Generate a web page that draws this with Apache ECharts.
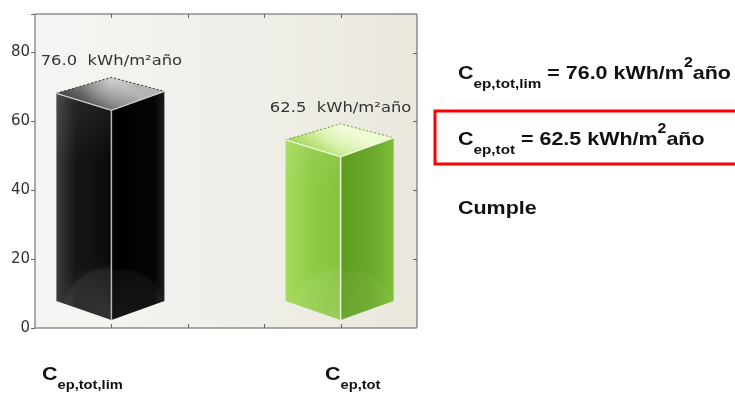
<!DOCTYPE html>
<html><head><meta charset="utf-8">
<script src="https://cdn.jsdelivr.net/npm/echarts@6/dist/echarts.min.js"></script>
<style>html,body{margin:0;padding:0;background:#fff}#c{width:735px;height:394px}</style>
</head><body><div id="c"></div>
<script>
// ---- data ----
const catMain = ['C', 'C'];
const catSub = ['ep,tot,lim', 'ep,tot'];
const values = [76.0, 62.5];
const unitMain = 'kWh/m';
const unitSup = '2';
const unitTail = 'año';
const yTicks = [0, 20, 40, 60, 80];
const xTicks = [1, 2, 3, 4];
const verdict = 'Cumple';

// ---- styles ----
const palettes = [
  { left: [[0,'#3c3c3c'],[0.35,'#161616'],[1,'#0a0a0a']], right: [[0,'#000'],[0.8,'#050505'],[1,'#1c1c1c']],
    top: [[0,'#b4b4b4'],[0.45,'#8a8a8a'],[1,'#4a4a4a']], edge: '#b8b8b8', topEdge: '#d0d0d0', back: '#333', glow: 0.16 },
  { left: [[0,'#a6da5c'],[0.5,'#8fcb45'],[1,'#84c23a']], right: [[0,'#5e9c20'],[0.6,'#6aa92a'],[1,'#7dbd38']],
    top: [[0,'#eefbd2'],[0.5,'#d2f0a0'],[1,'#a8d862']], edge: '#eaf8d6', topEdge: '#f0fbe0', back: '#6a9a40', glow: 0.14 }
];
const lin = (x, y, x2, y2, stops) => ({ type: 'linear', x, y, x2, y2, colorStops: stops.map(([o, c]) => ({ offset: o, color: c })) });
const rad = (x, y, r, stops) => ({ type: 'radial', x, y, r, colorStops: stops.map(([o, c]) => ({ offset: o, color: c })) });
const Y_MAX = 91.2, X_MAX = 5;

function renderBox(params, api) {
  const i = params.dataIndex;
  const xv = api.value(0), v = api.value(1);
  const p = api.coord([xv, v]);
  const p0 = api.coord([xv, 0]);
  const cx = p[0], yv = p[1], y0 = p0[1];
  const yb = yv + 11;
  const TB = [cx, yb], TL = [cx - 55, yb + 16], TF = [cx, yb + 33], TR = [cx + 53, yb + 14];
  const BL = [cx - 55, y0 - 27], BF = [cx, y0 - 8], BR = [cx + 53, y0 - 27];
  const pal = palettes[i];
  const g = pal.glow;
  return {
    type: 'group',
    children: [
      { type: 'polygon', shape: { points: [TL, TF, BF, BL] }, style: { fill: lin(0, 0, 1, 0, pal.left) } },
      { type: 'polygon', shape: { points: [TL, TF, BF, BL] }, style: { fill: rad(0.95, 0.97, 1.0, [[0, 'rgba(255,255,255,' + g + ')'], [0.78, 'rgba(255,255,255,' + (g * 0.6) + ')'], [0.86, 'rgba(255,255,255,0.02)'], [1, 'rgba(255,255,255,0)']]) } },
      { type: 'polygon', shape: { points: [TL, TF, BF, BL] }, style: { fill: lin(0, 0, 0, 1, [[0, 'rgba(255,255,255,0.08)'], [0.3, 'rgba(255,255,255,0)'], [1, 'rgba(255,255,255,0)']]) } },
      { type: 'polygon', shape: { points: [TF, TR, BR, BF] }, style: { fill: lin(0, 0, 1, 0, pal.right) } },
      { type: 'polygon', shape: { points: [TF, TR, BR, BF] }, style: { fill: rad(0.2, 0.97, 1.0, [[0, 'rgba(255,255,255,' + (g * 0.5) + ')'], [0.78, 'rgba(255,255,255,' + (g * 0.3) + ')'], [0.86, 'rgba(255,255,255,0)'], [1, 'rgba(255,255,255,0)']]) } },
      { type: 'polygon', shape: { points: [TB, TR, TF, TL] }, style: { fill: lin(0.5, 0, 0.3, 1, pal.top) } },
      { type: 'polygon', shape: { points: [TB, TR, TF, TL] }, style: { fill: rad(0.5, 0.1, 0.9, [[0, 'rgba(255,255,255,0.35)'], [0.6, 'rgba(255,255,255,0.12)'], [1, 'rgba(255,255,255,0)']]) } },
      { type: 'polyline', shape: { points: [TL, TB, TR] }, style: { stroke: pal.back, lineWidth: 1, lineDash: [2, 2], fill: null } },
      { type: 'polyline', shape: { points: [TL, TF, TR] }, style: { stroke: pal.topEdge, lineWidth: 1.2, fill: null } },
      { type: 'line', shape: { x1: TF[0], y1: TF[1], x2: BF[0], y2: BF[1] }, style: { stroke: pal.edge, lineWidth: 1.5 } },
      { type: 'text', x: cx, y: yv - 5, scaleX: 1.13,
        style: { text: v.toFixed(1) + '  ' + unitMain + '²' + unitTail, fill: '#333', font: '14.5px "DejaVu Sans"',
                 align: 'center', verticalAlign: 'middle', textAlign: 'center', textVerticalAlign: 'middle' } }
    ]
  };
}

// inward ticks on bottom, top and right frame edges, placed by the axis scales
function renderTicks(params, api) {
  const kids = [];
  const st = { stroke: '#666', lineWidth: 1 };
  xTicks.forEach(x => {
    const b = api.coord([x, 0]), t = api.coord([x, Y_MAX]);
    const bx = Math.round(b[0]) + 0.5;
    kids.push({ type: 'line', shape: { x1: bx, y1: b[1], x2: bx, y2: b[1] - 4 }, style: st });
    kids.push({ type: 'line', shape: { x1: bx, y1: t[1], x2: bx, y2: t[1] + 4 }, style: st });
  });
  yTicks.filter(y => y > 0).forEach(y => {
    const r = api.coord([X_MAX, y]);
    const ry = Math.round(r[1]) + 0.5;
    kids.push({ type: 'line', shape: { x1: r[0], y1: ry, x2: r[0] - 4, y2: ry }, style: st });
  });
  return { type: 'group', children: kids };
}

// ---- text helpers ----
const mctx = document.createElement('canvas').getContext('2d');
const FAM = '"Liberation Sans", Arial, sans-serif';
function tw(t, font) { mctx.font = font; return mctx.measureText(t).width; }
function formula(x, base, parts, sx) {
  const kids = []; let cur = 0;
  parts.forEach(pt => {
    const font = 'bold ' + pt.size + 'px ' + FAM;
    kids.push({ type: 'text', x: cur, y: base + pt.dy - 0.35 * pt.size,
      style: { text: pt.t, font, fill: '#111', align: 'left', verticalAlign: 'middle', textAlign: 'left', textVerticalAlign: 'middle' } });
    cur += tw(pt.t, font);
  });
  return { type: 'group', x: x, y: 0, scaleX: sx, children: kids };
}
function eqParts(i) {
  return [
    { t: catMain[i], size: 19, dy: 0 },
    { t: catSub[i], size: 13.5, dy: 9 },
    { t: ' = ' + values[i].toFixed(1) + ' ' + unitMain, size: 19, dy: 0 },
    { t: unitSup, size: 14, dy: -12 },
    { t: unitTail, size: 19, dy: 0 }
  ];
}
function catParts(i) {
  return [ { t: catMain[i], size: 19, dy: 0 }, { t: catSub[i], size: 13, dy: 9 } ];
}

const chart = echarts.init(document.getElementById('c'), null, { renderer: 'canvas' });
const axisCommon = { min: 0, max: X_MAX, interval: 1, axisLine: { show: false }, axisLabel: { show: false }, splitLine: { show: false },
  axisTick: { show: false } };
const yCommon = { min: 0, max: Y_MAX, interval: 20, axisLine: { show: false }, splitLine: { show: false } };

chart.setOption({
  backgroundColor: '#fff',
  animation: false,
  grid: { left: 35, right: 318, top: 14, bottom: 66, show: true, borderColor: '#5a5a5a', borderWidth: 1,
    backgroundColor: lin(0, 0, 1, 0, [[0, '#f5f5f3'], [0.5, '#f0efea'], [1, '#eae8dd']]) },
  xAxis: [
    Object.assign({ type: 'value', position: 'bottom' }, axisCommon),
    Object.assign({ type: 'value', position: 'top' }, axisCommon)
  ],
  yAxis: [
    Object.assign({ type: 'value', position: 'left',
      axisTick: { show: true, inside: false, length: 4, lineStyle: { color: '#666' } },
      axisLabel: { show: true, margin: 5, color: '#333', fontSize: 15, fontFamily: 'DejaVu Sans',
        formatter: val => yTicks.indexOf(val) >= 0 ? String(val) : '' } }, yCommon),
    Object.assign({ type: 'value', position: 'right', axisTick: { show: false }, axisLabel: { show: false } }, yCommon)
  ],
  series: [{
    type: 'custom',
    renderItem: renderBox,
    clip: false,
    data: values.map((v, i) => [i * 3 + 1, v])
  }, {
    type: 'custom',
    renderItem: renderTicks,
    clip: false,
    silent: true,
    data: [[0, 0]]
  }],
  graphic: [
    formula(458, 80, eqParts(0), 1.13),
    formula(458, 146, eqParts(1), 1.13),
    { type: 'text', x: 458, y: 215 - 0.35 * 19, scaleX: 1.13,
      style: { text: verdict, font: 'bold 19px ' + FAM, fill: '#111', align: 'left', verticalAlign: 'middle', textAlign: 'left', textVerticalAlign: 'middle' } },
    { type: 'rect', shape: { x: 435, y: 111, width: 330, height: 53 }, style: { fill: null, stroke: '#ff0000', lineWidth: 3 } },
    formula(42, 381, catParts(0), 1.13),
    formula(325, 381, catParts(1), 1.13)
  ]
});
</script></body></html>
